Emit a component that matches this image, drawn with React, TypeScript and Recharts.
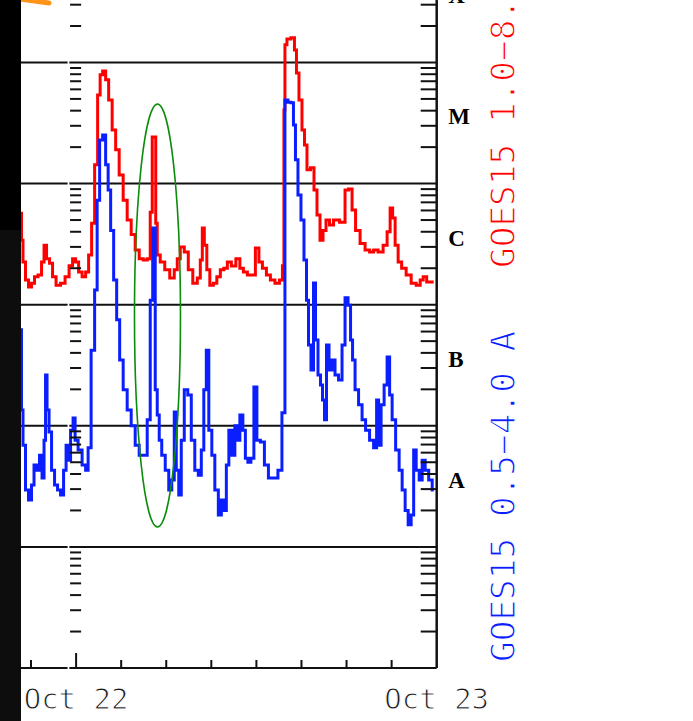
import React from "react";
import { ComposedChart, Line, XAxis, YAxis, ReferenceLine, ReferenceDot } from "recharts";

// Time in minutes from 2015-10-22 00:00 UT, flux in W m^-2
const longTime = [
  -220, -216, -208, -196, -184, -172, -160, -144, -132, -124, -112, -100, -88, -72, -52, -36, -20, -8,
  4, 16, 32, 44, 56, 68, 80, 92, 100, 112, 124, 136, 152, 164, 180, 196, 212, 228, 244, 260, 276, 292,
  300, 308, 316, 320, 328, 344, 364, 384, 400, 408, 424, 440, 456, 476, 492, 500, 508, 516, 528, 540,
  556, 568, 584, 596, 612, 628, 648, 660, 676, 692, 708, 724, 736, 752, 768, 784, 804, 820, 828, 832,
  836, 848, 868, 876, 884, 896, 908, 916, 928, 944, 956, 968, 980, 992, 1004, 1020, 1036, 1068, 1080,
  1096, 1108, 1124, 1144, 1164, 1180, 1196, 1216, 1236, 1248, 1260, 1268, 1280, 1292, 1308, 1328, 1348,
  1368, 1380, 1392, 1408, 1428,
];
const longFlux = [
  5.7e-6, 3.4e-6, 2.25e-6, 1.6e-6, 1.4e-6, 1.5e-6, 1.7e-6, 1.76e-6, 2.25e-6, 3.1e-6, 2.4e-6, 2.2e-6, 1.7e-6,
  1.45e-6, 1.5e-6, 1.7e-6, 2.1e-6, 2.4e-6,
  2.25e-6, 1.86e-6, 1.7e-6, 1.86e-6, 2.57e-6, 4.7e-6, 1.43e-5, 5.4e-5, 7.9e-5, 8.5e-5, 7.2e-5, 4.9e-5,
  2.77e-5, 1.9e-5, 1.18e-5, 7.3e-6, 5.0e-6, 3.8e-6, 2.83e-6, 2.4e-6, 2.34e-6, 2.4e-6,
  5.8e-6, 2.43e-5, 2.43e-5, 4.7e-6, 2.57e-6, 2.25e-6, 1.94e-6, 1.66e-6, 1.94e-6, 2.4e-6, 3.0e-6, 2.72e-6,
  1.94e-6, 1.5e-6, 1.66e-6, 2.34e-6, 4.3e-6, 3.1e-6, 1.94e-6, 1.45e-6,
  1.5e-6, 1.7e-6, 1.94e-6, 2.0e-6, 2.25e-6, 2.09e-6, 2.4e-6, 2.0e-6, 1.86e-6, 1.76e-6, 1.76e-6, 2.94e-6,
  2.25e-6, 2.0e-6, 1.76e-6, 1.6e-6, 1.5e-6, 1.6e-6, 2.1e-6, 4.05e-5,
  1.4e-4, 1.56e-4, 1.6e-4, 1.27e-4, 8.2e-5, 4.9e-5, 2.77e-5, 2.08e-5, 1.3e-5, 1.35e-5, 8.85e-6, 5.5e-6,
  3.4e-6, 4.1e-6, 5.0e-6, 4.55e-6, 5.0e-6, 4.8e-6, 8.85e-6,
  9.0e-6, 6.05e-6, 4.1e-6, 3.2e-6, 2.83e-6, 2.72e-6, 2.83e-6, 2.72e-6, 3.1e-6, 4.0e-6, 6.3e-6, 5.2e-6,
  3.1e-6, 2.25e-6, 2.0e-6, 1.76e-6, 1.5e-6,
  1.45e-6, 1.6e-6, 1.7e-6, 1.54e-6, 1.54e-6,
];

const shortTime = [
  -220, -216, -208, -196, -184, -172, -164, -152, -140, -132, -124, -120, -112, -104, -92, -80, -68, -56,
  -44, -36, -28, -16, -8, 0, 16, 32, 44, 52, 68, 80, 88, 100, 112, 124, 132, 144, 156, 168, 180, 196,
  212, 228, 244, 260, 276, 292, 300, 312, 320, 328, 336, 348, 364, 376, 388, 396, 404, 416, 424, 440,
  452, 468, 480, 496, 504, 516, 524, 536, 548, 560, 576, 584, 596, 604, 616, 628, 640, 648, 660, 672,
  680, 692, 704, 716, 728, 744, 760, 776, 796, 816, 828, 840, 852, 864, 872, 880, 892, 904, 916, 924,
  932, 944, 952, 960, 972, 980, 988, 996, 1004, 1016, 1028, 1040, 1056, 1068, 1080, 1092, 1100, 1108,
  1120, 1136, 1148, 1164, 1180, 1196, 1204, 1212, 1224, 1236, 1248, 1256, 1268, 1284, 1296, 1308, 1320,
  1332, 1344, 1352, 1364, 1376, 1388, 1400, 1416, 1428,
];
const shortFlux = [
  6.2e-7, 1.35e-7, 6.9e-8, 2.95e-8, 2.44e-8, 3.24e-8, 4.75e-8, 4.3e-8, 5.7e-8, 3.7e-8, 7.6e-8, 2.63e-7,
  1.35e-7, 8.9e-8, 4.3e-8, 3.24e-8, 2.95e-8, 2.68e-8,
  4.3e-8, 6.9e-8, 5.2e-8, 9.2e-8, 1.16e-7, 7.6e-8, 6.3e-8, 4.75e-8, 4.3e-8, 6.6e-8, 4.2e-7, 1.32e-6,
  7.3e-6, 2.29e-5, 2.52e-5, 1.43e-5, 8.85e-6, 4.1e-6, 1.6e-6, 7.5e-7, 3.5e-7, 1.98e-7,
  1.35e-7, 1.0e-7, 6.9e-8, 5.7e-8, 5.7e-8, 1.12e-7, 1.09e-6, 4.3e-6, 1.98e-7, 1.23e-7, 7.6e-8, 5.7e-8,
  4.3e-8, 2.95e-8, 3.57e-8, 1.3e-7, 4.3e-8, 2.68e-8, 7.6e-8, 1.98e-7,
  1.8e-7, 7.6e-8, 4.3e-8, 3.9e-8, 6.3e-8, 1.98e-7, 4.2e-7, 9.2e-8, 5.7e-8, 2.95e-8, 1.83e-8, 2.44e-8,
  2.0e-8, 4.75e-8, 9.2e-8, 5.7e-8, 1.0e-7, 7.6e-8, 1.23e-7, 9.2e-8,
  5.4e-8, 5.0e-8, 5.4e-8, 2.09e-7, 7.6e-8, 7.35e-8, 4.75e-8, 3.7e-8, 3.7e-8, 4.3e-8, 1.28e-7, 4.9e-5,
  4.7e-5, 4.65e-5, 3.05e-5, 1.57e-5, 8.05e-6, 5.0e-6, 2.34e-6, 1.09e-6,
  4.65e-7, 2.89e-7, 1.51e-6, 5.1e-7, 2.63e-7, 2.17e-7, 1.63e-7, 1.12e-7, 4.65e-7, 2.89e-7, 3.5e-7,
  2.63e-7, 2.39e-7, 4.65e-7, 1.14e-6, 9.9e-7, 5.1e-7, 3.5e-7,
  1.98e-7, 1.49e-7, 1.12e-7, 9.2e-8, 7.6e-8, 6.6e-8, 1.63e-7, 6.9e-8, 1.49e-7, 2.17e-7, 3.7e-7, 1.8e-7,
  1.12e-7, 6.3e-8, 4.3e-8, 2.95e-8, 2.0e-8,
  1.52e-8, 1.83e-8, 6.3e-8, 4.3e-8, 3.57e-8, 5.2e-8, 4.3e-8, 3.57e-8, 2.95e-8,
];

const timeTicks = [-180, 0, 180, 360, 540, 720, 900, 1080, 1260, 1440];
const dayLabels: Record<number, string> = { 0: "Oct 22", 1440: "Oct 23" };

const decadeExponents = [-9, -8, -7, -6, -5, -4];
const minorMantissas = [2, 3, 4, 5, 6, 7, 8, 9];
const gridExponents = [-8, -7, -6, -5, -4];
const classLetters = ["A", "B", "C", "M", "X"];
const classExponents = [-8, -7, -6, -5, -4];
const classMantissa = 3.55;

const T_MIN = -224;
const T_MAX = 1440;
const F_MIN = 1e-9;
const F_MAX = 3.28e-4;

// the frame has a small break just left of the inner tick column
const FRAME_SEGMENTS: [number, number][] = [
  [T_MIN, -34],
  [-27, T_MAX],
];
const INNER_TICK_SPAN: [number, number] = [-24, 20];

const longData = longTime.map((t, i) => ({ t, flux: longFlux[i] }));
const shortData = shortTime.map((t, i) => ({ t, flux: shortFlux[i] }));

const minorValues: number[] = [];
decadeExponents.forEach((e) => {
  minorMantissas.forEach((m) => {
    const v = m * Math.pow(10, e);
    if (v < F_MAX) minorValues.push(v);
  });
});
const gridValues = gridExponents.map((e) => Math.pow(10, e));
const letterValues = classExponents.map((e) => classMantissa * Math.pow(10, e));
const rightTicks = [...minorValues, ...letterValues];

const letterFor = (v: number) => {
  const i = letterValues.findIndex((lv) => Math.abs(lv - v) / lv < 1e-6);
  return i >= 0 ? classLetters[i] : null;
};

// thin monospace lettering: glyphs are filled, then trimmed by a white outline
const thinText = {
  fontFamily: "'DejaVu Sans Mono', monospace",
  stroke: "#fff",
};

const TimeTick = (props: any) => {
  const { x, y, payload } = props;
  const v = payload.value as number;
  const label = dayLabels[v];
  return (
    <g>
      {v < T_MAX && (
        <line x1={x} x2={x} y1={y} y2={y - (v === 0 ? 15 : 8)} stroke="#111" strokeWidth={2} />
      )}
      {label && (
        <text
          x={x}
          y={y + 41}
          textAnchor="middle"
          fill="#1a1a1a"
          fontFamily={thinText.fontFamily}
          stroke={thinText.stroke}
          strokeWidth={1}
          fontSize={29}
        >
          {label}
        </text>
      )}
    </g>
  );
};

const FluxTick = (props: any) => {
  const { x, y, payload } = props;
  const letter = letterFor(payload.value);
  if (letter) {
    return (
      <text
        x={x + 11.5}
        y={y}
        dominantBaseline="central"
        textAnchor="start"
        fill="#000"
        fontFamily="'Liberation Serif', serif"
        fontWeight="bold"
        fontSize={23}
      >
        {letter}
      </text>
    );
  }
  return <line x1={x - 16} x2={x} y1={y} y2={y} stroke="#111" strokeWidth={2} />;
};

const SelectionEllipse = (p: any) => (
  <ellipse cx={p.cx} cy={p.cy} rx={23} ry={211.5} fill="none" stroke="#0b8c0b" strokeWidth={1.6} />
);

export default function App() {
  return (
    <div style={{ position: "absolute", left: 0, top: 0, width: 693, height: 721, background: "#fff" }}>
      <div style={{ position: "absolute", left: 0, top: 0 }}>
        <ComposedChart
          width={693}
          height={721}
          margin={{ top: 0, right: 196.3, bottom: 0, left: 20 }}
        >
          <XAxis
            dataKey="t"
            type="number"
            domain={[T_MIN, T_MAX]}
            allowDataOverflow
            ticks={timeTicks}
            interval={0}
            height={53}
            axisLine={false}
            tickLine={false}
            tickSize={0}
            tickMargin={0}
            tick={<TimeTick />}
          />
          <YAxis
            orientation="right"
            scale="log"
            domain={[F_MIN, F_MAX]}
            allowDataOverflow
            ticks={rightTicks}
            interval={0}
            width={60}
            axisLine={{ stroke: "#111", strokeWidth: 2.5 }}
            tickLine={false}
            tickSize={0}
            tickMargin={0}
            tick={<FluxTick />}
          />

          {gridValues.map((v) =>
            FRAME_SEGMENTS.map(([a, b]) => (
              <ReferenceLine
                key={`g${v}_${a}`}
                segment={[{ x: a, y: v }, { x: b, y: v }]}
                stroke="#111"
                strokeWidth={2}
              />
            ))
          )}
          {FRAME_SEGMENTS.map(([a, b]) => (
            <ReferenceLine
              key={`base_${a}`}
              segment={[{ x: a, y: F_MIN }, { x: b, y: F_MIN }]}
              stroke="#111"
              strokeWidth={2}
            />
          ))}

          <Line
            data={longData}
            dataKey="flux"
            type="step"
            stroke="#ff0000"
            strokeWidth={3}
            dot={false}
            isAnimationActive={false}
          />
          <Line
            data={shortData}
            dataKey="flux"
            type="step"
            stroke="#0a1eff"
            strokeWidth={3}
            dot={false}
            isAnimationActive={false}
          />

          {minorValues.map((v) => (
            <ReferenceLine
              key={`m${v}`}
              segment={[{ x: INNER_TICK_SPAN[0], y: v }, { x: INNER_TICK_SPAN[1], y: v }]}
              stroke="#111"
              strokeWidth={2}
            />
          ))}

          <ReferenceDot x={325} y={8.15e-7} r={0} ifOverflow="visible" shape={SelectionEllipse} />
        </ComposedChart>
      </div>

      <svg
        width={693}
        height={721}
        style={{ position: "absolute", left: 0, top: 0, pointerEvents: "none" }}
      >
        <line x1={20} y1={-1} x2={49} y2={3} stroke="#ff9418" strokeWidth={5} strokeLinecap="round" />
        <rect x={0} y={0} width={21} height={230} fill="#000" />
        <rect x={0} y={230} width={21} height={491} fill="#0d0d0d" />
        <text
          transform="translate(515 268) rotate(-90)"
          fill="#ff0000"
          fontFamily={thinText.fontFamily}
          stroke={thinText.stroke}
          strokeWidth={1.2}
          fontSize={34.4}
        >
          GOES15 1.0−8.0 A
        </text>
        <text
          transform="translate(515 662) rotate(-90)"
          fill="#0a1eff"
          fontFamily={thinText.fontFamily}
          stroke={thinText.stroke}
          strokeWidth={1.2}
          fontSize={34.4}
        >
          GOES15 0.5−4.0 A
        </text>
      </svg>
    </div>
  );
}
